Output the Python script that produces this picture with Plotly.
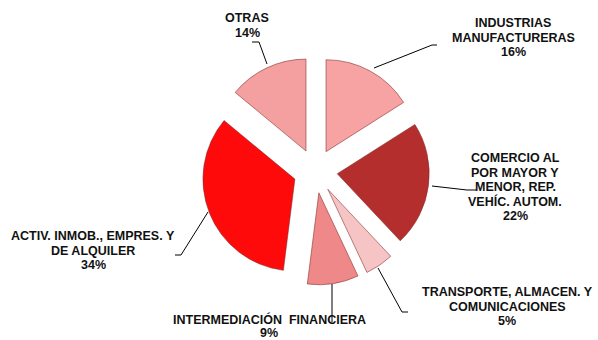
import plotly.graph_objects as go

labels = ["INDUSTRIAS<br>MANUFACTURERAS", "COMERCIO AL<br>POR MAYOR Y<br>MENOR, REP.<br>VEHÍC. AUTOM.",
          "TRANSPORTE, ALMACEN. Y<br>COMUNICACIONES", "INTERMEDIACIÓN  FINANCIERA",
          "ACTIV. INMOB., EMPRES. Y<br>DE ALQUILER", "OTRAS"]
values = [16, 22, 5, 9, 34, 14]
colors = ["#F8A3A3", "#B52E2E", "#F6C4C4", "#EF8888", "#FE0A0A", "#F4A0A0"]

W, H = 598, 340

def px(x):
    return x / W

def py(y):
    return 1 - y / H

# label block positions (pixels): center x, first line y, line spacing
label_pos = [(513, 23), (515, 158), (507, 292), (269, 319), (93, 236), (247, 18)]
line_gap = [14.6, 14.6, 14.6, 14.2, 14.6, 14.6]
leaders = [
    [(374, 68), (432, 45), (437, 45)],
    [(432, 186), (467, 190), (476, 190)],
    [(378, 268), (402, 312), (408, 312)],
    [(332, 284), (332, 322)],
    [(208, 212), (181, 255), (175, 255)],
    [(267, 64), (259, 42), (252, 42)],
]

fig = go.Figure(go.Pie(
    labels=labels,
    values=values,
    sort=False,
    direction="clockwise",
    rotation=0,
    pull=[0.24] * len(values),
    textinfo="none",
    hoverinfo="label+percent",
    marker=dict(colors=colors, line=dict(color="rgba(130,40,40,0.55)", width=1)),
    domain=dict(x=[px(201.4), px(429.4)], y=[py(285), py(57)]),
    showlegend=False,
))

total = sum(values)
for lab, v, (x, y0), gap in zip(labels, values, label_pos, line_gap):
    lines = lab.split("<br>") + [f"{round(100 * v / total)}%"]
    for i, ln in enumerate(lines):
        fig.add_annotation(
            x=px(x), y=py(y0 + i * gap), xref="paper", yref="paper",
            text=ln, showarrow=False, align="center", borderpad=0,
            font=dict(family="Liberation Sans, Arial", size=12.5, color="#111111", weight="bold"),
            xanchor="center", yanchor="middle",
        )

for path in leaders:
    d = "M " + " L ".join(f"{px(x)},{py(y)}" for x, y in path)
    fig.add_shape(type="path", path=d, xref="paper", yref="paper",
                  line=dict(color="#000000", width=1))

fig.update_layout(
    width=W, height=H,
    margin=dict(l=0, r=0, t=0, b=0),
    paper_bgcolor="white", plot_bgcolor="white",
)

fig.write_html("out.html", config={"displayModeBar": False},
               post_script="document.body.style.margin='0px';")
